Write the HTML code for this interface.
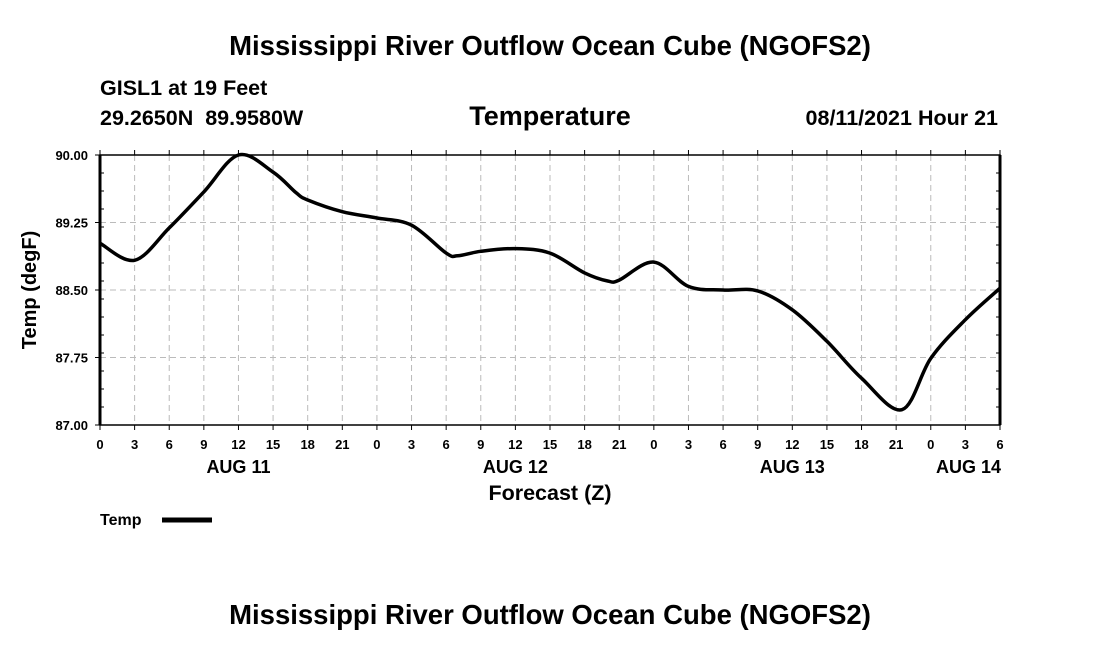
<!DOCTYPE html>
<html><head><meta charset="utf-8"><style>
body{margin:0;background:#fff;}
svg text{font-family:"Liberation Sans",sans-serif;fill:#000;font-weight:bold;}
</style></head><body>
<svg id="chart" width="1100" height="650" xmlns="http://www.w3.org/2000/svg">
<text x="550" y="55" text-anchor="middle" font-size="27.5">Mississippi River Outflow Ocean Cube (NGOFS2)</text>
<text x="100" y="95" font-size="21.5">GISL1 at 19 Feet</text>
<text x="100" y="125" font-size="21.5" xml:space="preserve" style="white-space:pre">29.2650N  89.9580W</text>
<text x="550" y="125" text-anchor="middle" font-size="27">Temperature</text>
<text x="998" y="125" text-anchor="end" font-size="21.5">08/11/2021 Hour 21</text>
<g id="grid"></g>
<g id="axes"></g>
<path id="line" fill="none" stroke="#000" stroke-width="3.5" stroke-linejoin="round"/>
<text x="550" y="500" text-anchor="middle" font-size="21.5">Forecast (Z)</text>
<text transform="translate(36,290) rotate(-90)" text-anchor="middle" font-size="20">Temp (degF)</text>
<g>
<text x="100" y="525" font-size="16">Temp</text>
<line x1="162" y1="520" x2="212" y2="520" stroke="#000" stroke-width="5"/>
</g>
<text x="550" y="624" text-anchor="middle" font-size="27.5">Mississippi River Outflow Ocean Cube (NGOFS2)</text>
</svg>
<script>
const hours=[0,3,6,9,12,15,17,18,21,24,27,30,31,33,36,39,42,44,45,48,51,54,57,60,63,66,69.5,72,75,78];
const temps=[89.02,88.83,89.19,89.59,90.0,89.81,89.58,89.5,89.37,89.3,89.22,88.91,88.88,88.93,88.96,88.91,88.69,88.6,88.61,88.81,88.54,88.5,88.49,88.28,87.93,87.52,87.17,87.74,88.17,88.52];
const yTicks=[87.00,87.75,88.50,89.25,90.00];
const xTickLabels=["0","3","6","9","12","15","18","21","0","3","6","9","12","15","18","21","0","3","6","9","12","15","18","21","0","3","6"];
const dayLabels=["AUG 11","AUG 12","AUG 13","AUG 14"];
const dayHours=[12,36,60,78];
const L=100,R=1000,T=155,B=425,XMAX=78,YMIN=87,YMAX=90;
const sx=h=>L+(R-L)*h/XMAX, sy=v=>B-(B-T)*(v-YMIN)/(YMAX-YMIN);
const NS="http://www.w3.org/2000/svg";
const grid=document.getElementById('grid'),axes=document.getElementById('axes');
function mk(tag,attrs,parent){const e=document.createElementNS(NS,tag);for(const k in attrs)e.setAttribute(k,attrs[k]);parent.appendChild(e);return e;}
xTickLabels.forEach((lab,i)=>{const x=sx(i*3);
 const g=mk('line',{x1:x,y1:T,x2:x,y2:B,stroke:'#bbb','stroke-dasharray':'6,4'},grid);
 
 
 mk('line',{x1:x,y1:T-5,x2:x,y2:T,stroke:'#000'},axes);
 mk('line',{x1:x,y1:B,x2:x,y2:B+5,stroke:'#000'},axes);
 const t=mk('text',{x:x,y:449,'text-anchor':'middle','font-size':13},axes);t.textContent=lab;
 
 
});
dayLabels.forEach((d,i)=>{const last=i===dayLabels.length-1;
 const t=mk('text',{x:last?1001:sx(dayHours[i]),y:473,'text-anchor':last?'end':'middle','font-size':18},axes);t.textContent=d;
 
 });
yTicks.forEach(v=>{const y=sy(v);
 const g=mk('line',{x1:L,y1:y,x2:R,y2:y,stroke:'#bbb','stroke-dasharray':'6,4'},grid);
 
 
 mk('line',{x1:L-5,y1:y,x2:L,y2:y,stroke:'#000'},axes);
 const t=mk('text',{x:88,y:y+5,'text-anchor':'end','font-size':13},axes);t.textContent=v.toFixed(2);
 
 });
for(let v=87.2;v<90;v+=0.2){const y=sy(v);mk('line',{x1:L,y1:y,x2:L+4,y2:y,stroke:'#000'},axes);mk('line',{x1:R-4,y1:y,x2:R,y2:y,stroke:'#000'},axes);}
mk('rect',{x:L,y:T,width:R-L,height:B-T,fill:'none',stroke:'#000','stroke-width':1.5},axes);
mk('line',{x1:L,y1:T,x2:L,y2:B,stroke:'#000','stroke-width':3},axes);
mk('line',{x1:R,y1:T,x2:R,y2:B,stroke:'#000','stroke-width':3},axes);
const pts=hours.map((h,i)=>[sx(h),sy(temps[i])]);
let d='M'+pts[0][0]+','+pts[0][1];
for(let i=0;i<pts.length-1;i++){const p0=pts[Math.max(0,i-1)],p1=pts[i],p2=pts[i+1],p3=pts[Math.min(pts.length-1,i+2)];
 const c1=[p1[0]+(p2[0]-p0[0])/6,p1[1]+(p2[1]-p0[1])/6],c2=[p2[0]-(p3[0]-p1[0])/6,p2[1]-(p3[1]-p1[1])/6];
 d+=' C'+c1.join(',')+' '+c2.join(',')+' '+p2.join(',');}
document.getElementById('line').setAttribute('d',d);
</script>
</body></html>
